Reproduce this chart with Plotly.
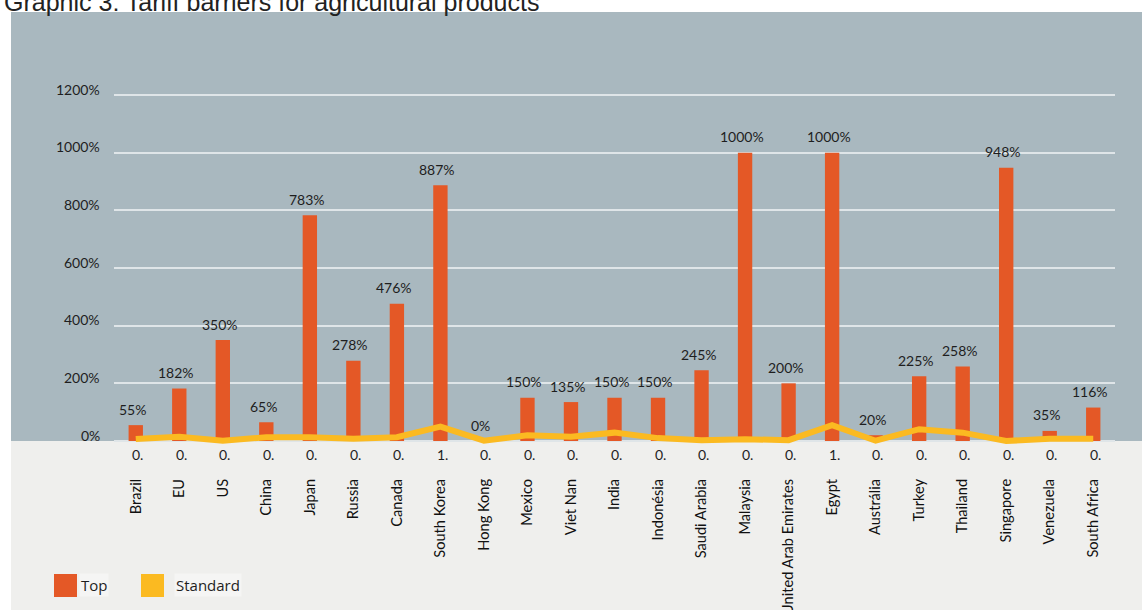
import plotly.graph_objects as go

# ---- data -------------------------------------------------------------
countries = ["Brazil", "EU", "US", "China", "Japan", "Russia", "Canada",
             "South Korea", "Hong Kong", "Mexico", "Viet Nan", "India",
             "Indonésia", "Saudi Arabia", "Malaysia", "United Arab Emirates",
             "Egypt", "Austrália", "Turkey", "Thailand", "Singapore",
             "Venezuela", "South Africa"]
top_tariff = [55, 182, 350, 65, 783, 278, 476, 887, 0, 150, 135, 150, 150,
              245, 1000, 200, 1000, 20, 225, 258, 948, 35, 116]
standard_tariff = [7, 15, 1, 13, 13, 8, 13, 50, 1, 20, 15, 29, 10, 3, 6, 3,
                   55, 1, 41, 29, 0, 8, 8]
standard_labels = ["0.", "0.", "0.", "0.", "0.", "0.", "0.", "1.", "0.", "0.",
                   "0.", "0.", "0.", "0.", "0.", "0.", "1.", "0.", "0.", "0.",
                   "0.", "0.", "0."]
y_ticks = [0, 200, 400, 600, 800, 1000, 1200]
y_tick_text = [f"{v}%" for v in y_ticks]

title_text = "Graphic 3: Tariff barriers for agricultural products"

# ---- layout geometry (pixels) ----------------------------------------
W, H = 1142, 610
M_L, M_R, M_T, M_B = 114, 27, 12, 162
PLOT_W = W - M_L - M_R
PLOT_H = H - M_T - M_B
ZERO_PX = 441                        # pixel row of the 0 % baseline
PX_PER_UNIT = (ZERO_PX - 95) / 1200  # 1200 % gridline sits at y = 95 px
y_min = -(H - M_B - ZERO_PX) / PX_PER_UNIT
y_max = (ZERO_PX - M_T) / PX_PER_UNIT


def px_x(p):
    return (p - M_L) / PLOT_W


def px_y(p):
    return (H - M_B - p) / PLOT_H


ORANGE = "#e45826"
YELLOW = "#fbba21"
BLUE_BG = "#a9b8bf"
GREY_BG = "#efefed"
TEXT = "#1e1e1e"
FONT = "Lato"

fig = go.Figure()

fig.add_trace(go.Bar(
    x=countries, y=top_tariff, name="Top",
    marker=dict(color=ORANGE, line=dict(width=0)),
    width=0.33, showlegend=False, hoverinfo="x+y",
))

fig.add_trace(go.Scatter(
    x=countries, y=standard_tariff, name="Standard", mode="lines",
    line=dict(color=YELLOW, width=6), showlegend=False,
))

annotations = []

# y-axis labels, sitting just above their gridlines
for v, t in zip(y_ticks, y_tick_text):
    annotations.append(dict(
        x=px_x(102), y=v, xref="paper", yref="y", text=t, showarrow=False,
        xanchor="right", yanchor="middle", yshift=6,
        font=dict(family=FONT, size=14, color=TEXT),
    ))

# value labels above the bars
for c, v in zip(countries, top_tariff):
    annotations.append(dict(
        x=c, y=v, xref="x", yref="y", text=f"{v}%", showarrow=False,
        yshift=16, xshift=-3, font=dict(family=FONT, size=14, color=TEXT),
    ))

# truncated standard-value row under the axis
for c, s in zip(countries, standard_labels):
    annotations.append(dict(
        x=c, y=px_y(454), xref="x", yref="paper", text=s, showarrow=False,
        yanchor="middle", xshift=2, font=dict(family=FONT, size=14, color=TEXT),
    ))

# title (sits at the very top edge of the page)
annotations.append(dict(
    x=px_x(2), y=px_y(1.5), xref="paper", yref="paper", text=title_text,
    showarrow=False, xanchor="left", yanchor="middle",
    font=dict(family="Liberation Sans", size=25, color="#222222"),
))

# legend
annotations.append(dict(
    x=px_x(79), y=px_y(585), xref="paper", yref="paper", text="Top",
    showarrow=False, xanchor="left", yanchor="middle", bgcolor="#f5f5f4",
    font=dict(family="Open Sans", size=15, color=TEXT),
))
annotations.append(dict(
    x=px_x(174), y=px_y(585), xref="paper", yref="paper", text="Standard",
    showarrow=False, xanchor="left", yanchor="middle", bgcolor="#f5f5f4",
    font=dict(family="Open Sans", size=15, color=TEXT),
))

shapes = [
    # upper slate panel
    dict(type="rect", xref="paper", yref="paper", layer="below",
         x0=px_x(11), x1=px_x(W + 5), y0=px_y(ZERO_PX), y1=px_y(M_T),
         fillcolor=BLUE_BG, line=dict(width=0)),
    # lower light panel
    dict(type="rect", xref="paper", yref="paper", layer="below",
         x0=px_x(11), x1=px_x(W + 5), y0=px_y(H + 5), y1=px_y(ZERO_PX),
         fillcolor=GREY_BG, line=dict(width=0)),
    # legend swatches
    dict(type="rect", xref="paper", yref="paper",
         x0=px_x(54), x1=px_x(77), y0=px_y(597), y1=px_y(574),
         fillcolor=ORANGE, line=dict(width=0)),
    dict(type="rect", xref="paper", yref="paper",
         x0=px_x(141), x1=px_x(164), y0=px_y(597), y1=px_y(574),
         fillcolor=YELLOW, line=dict(width=0)),
]

fig.update_layout(
    width=W, height=H,
    margin=dict(l=M_L, r=M_R, t=M_T, b=M_B, pad=0, autoexpand=False),
    paper_bgcolor="white", plot_bgcolor="rgba(0,0,0,0)",
    showlegend=False, bargap=0.67,
    annotations=annotations, shapes=shapes,
    font=dict(family=FONT, color=TEXT),
)

fig.update_xaxes(
    type="category", categoryorder="array", categoryarray=countries,
    showgrid=False, showline=False, zeroline=False, ticks="",
    tickangle=-90, ticklabelstandoff=27, automargin=False,
    tickfont=dict(family=FONT, size=14.6, color="#111111"),
)

fig.update_yaxes(
    range=[y_min, y_max], tickvals=y_ticks, showticklabels=False,
    showgrid=True, gridcolor="#dfe5e8", gridwidth=1.5,
    zeroline=False, showline=False, ticks="", automargin=False,
)

fig.write_html("out.html")
